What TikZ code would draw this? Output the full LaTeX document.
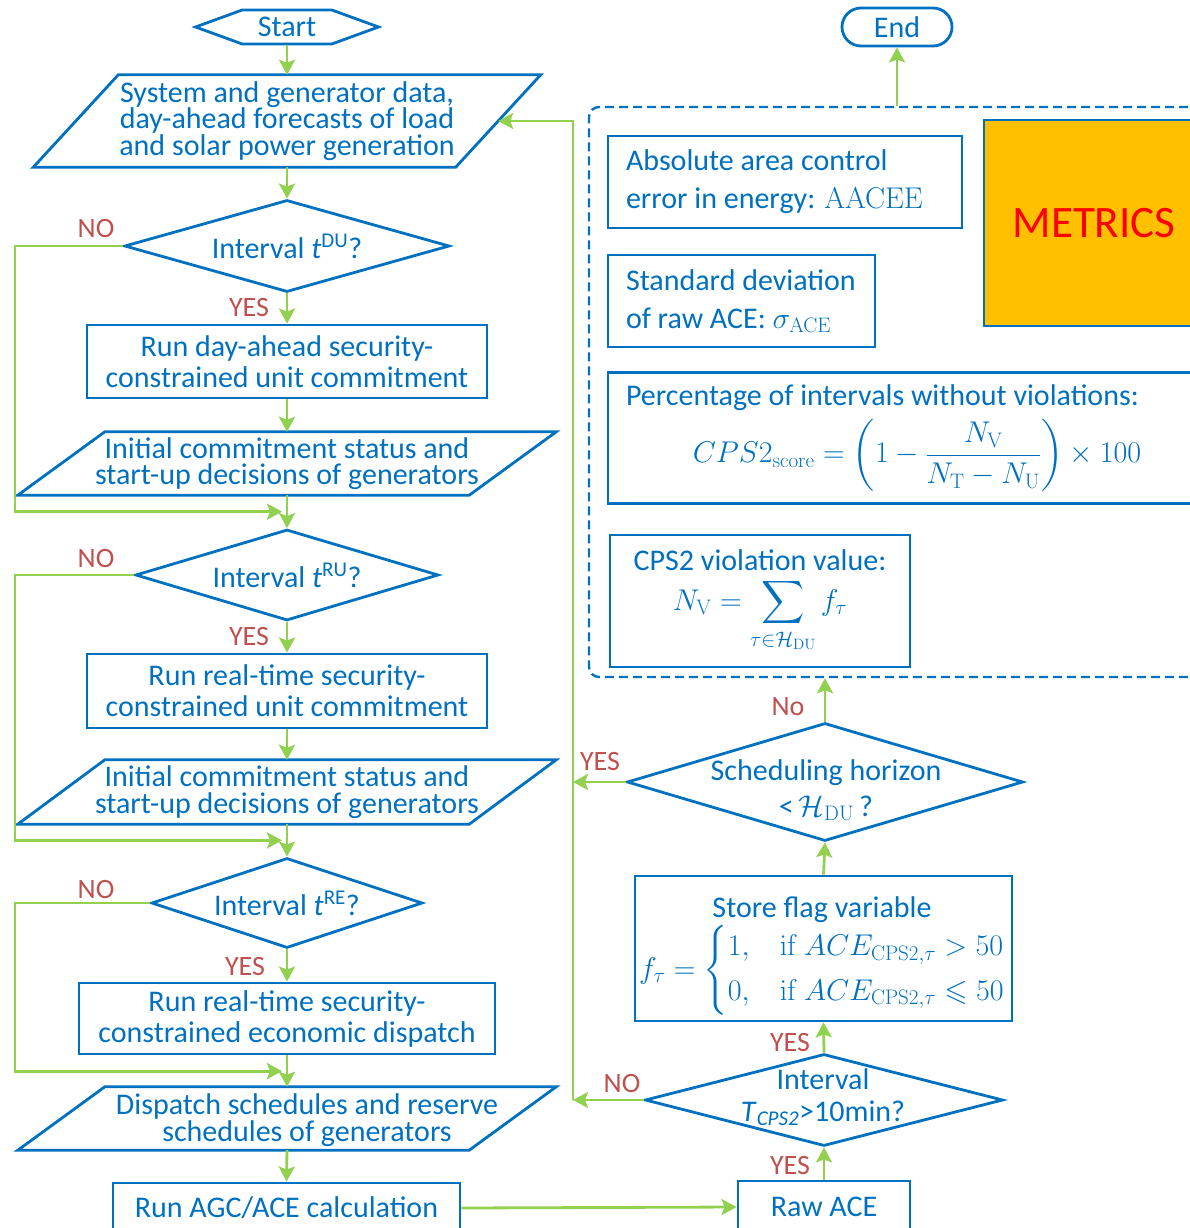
\RequirePackage{fix-cm}
\documentclass[tikz,border=0pt]{standalone}
\usepackage{amsmath,amssymb}
\usepackage[no-math]{fontspec}
\setmainfont{Carlito}
\usetikzlibrary{arrows.meta,positioning,shapes.geometric,shapes.symbols,calc}
\definecolor{cblue}{RGB}{0,112,192}
\definecolor{cgreen}{RGB}{146,208,80}
\definecolor{cred}{RGB}{192,80,77}
\definecolor{corange}{RGB}{255,192,0}
\newcommand{\bodyfont}{\fontsize{30}{31}\selectfont}
\newcommand{\tightfont}{\fontsize{30}{26.5}\selectfont}
\newcommand{\labelfont}{\fontsize{28}{30}\selectfont}
% slanted outline round a data node: #1 node, #2 half of the slant
\newcommand{\slantbox}[2]{\draw[draw=cblue, line width=2.8pt, line join=miter]
  ([xshift=#2]#1.north west) -- ([xshift=#2]#1.north east) -- ([xshift=-#2]#1.south east) -- ([xshift=-#2]#1.south west) -- cycle;}

\begin{document}
\begin{tikzpicture}[x=1pt, y=-1pt,
  box/.style={draw=cblue, line width=2.8pt, text=cblue, font=\bodyfont, align=center, inner sep=0pt},
  io/.style={text=cblue, font=\tightfont, align=center, inner sep=0pt},
  decision/.style={diamond, draw=cblue, line width=2.8pt, inner sep=0pt},
  txt/.style={text=cblue, font=\bodyfont, align=center, inner sep=0pt},
  lbl/.style={text=cred, font=\labelfont, inner sep=0pt},
  flow/.style={draw=cgreen, line width=2.8pt, -{Stealth[length=15pt,width=16pt,inset=3pt]}}]
  \useasboundingbox (0,0) rectangle (1190,1228);
  \clip (0,0) rectangle (1190,1228);

  %--- left column: scheduling chain ---
  \node[box, shape=signal, signal to=west and east, signal pointer angle=40, minimum width=183pt, minimum height=34pt] (start) at (287,27) {Start};

  \node[io, minimum width=422pt, minimum height=92pt] (inp) at (287,121) {System and generator data,\\day-ahead forecasts of load\\and solar power generation};
  \slantbox{inp}{42.5pt}

  \node[decision, minimum width=325pt, minimum height=92pt] (du) at (287,246) {};
  \node[txt] (dutext) at (du) {Interval \textit{t}\textsuperscript{DU}?};

  \node[box, minimum width=400pt, minimum height=73pt] (scuc) at (287,361.5) {Run day-ahead security-\\constrained unit commitment};

  \node[io, minimum width=451pt, minimum height=63pt] (ini1) at (287,463.5) {Initial commitment status and\\start-up decisions of generators};
  \slantbox{ini1}{43.5pt}

  \node[decision, minimum width=303pt, minimum height=91pt] (ru) at (287,575) {};
  \node[txt] (rutext) at (ru) {Interval \textit{t}\textsuperscript{RU}?};

  \node[box, minimum width=400pt, minimum height=74pt] (rtuc) at (287,691) {Run real-time security-\\constrained unit commitment};

  \node[io, minimum width=451pt, minimum height=64pt] (ini2) at (287,792) {Initial commitment status and\\start-up decisions of generators};
  \slantbox{ini2}{43.5pt}

  \node[decision, minimum width=271pt, minimum height=90pt] (re) at (287,903) {};
  \node[txt] (retext) at (re) {Interval \textit{t}\textsuperscript{RE}?};

  \node[box, minimum width=416pt, minimum height=71pt] (sced) at (287,1018.5) {Run real-time security-\\constrained economic dispatch};

  \node[io, minimum width=451pt, minimum height=63pt] (disp) at (287,1118.5) {};
  \slantbox{disp}{43.5pt}
  \node[io] (disptext) at (307,1120) {Dispatch schedules and reserve\\schedules of generators};

  \node[box, minimum width=347pt, minimum height=50pt] (agc) at (286.5,1208) {Run AGC/ACE calculation};

  %--- right column: CPS2 check ---
  \node[box, minimum width=172pt, minimum height=52pt] (raw) at (824,1207) {Raw ACE};

  \node[decision, minimum width=358pt, minimum height=92pt] (tcps) at (824,1100) {};
  \node[txt, font=\fontsize{30}{32}\selectfont] (tcpstext) at (823,1097) {Interval\\\textit{T}\textsubscript{\textit{CPS2}}>10min?};

  \node[box, minimum width=377pt, minimum height=145pt] (flag) at (823.5,948.5) {};
  \node[txt] (flagtext) at (822,956) {Store flag variable\\[2pt]
    $f_\tau = \begin{cases} 1, & \mathrm{if}\ ACE_{\mathrm{CPS2},\tau} > 50\\[7pt] 0, & \mathrm{if}\ ACE_{\mathrm{CPS2},\tau} \leqslant 50\end{cases}$};

  \node[decision, minimum width=396pt, minimum height=118pt] (hor) at (825,782) {};
  \node[txt, font=\fontsize{30}{36}\selectfont] (hortext) at (826,790) {Scheduling horizon\\{<}\,$\mathcal{H}_{\mathrm{DU}}$\,?};

  %--- metrics ---
  \node[draw=cblue, line width=2.4pt, dash pattern=on 9pt off 5pt, rounded corners=10pt, minimum width=651pt, minimum height=570pt, inner sep=0pt] (metbox) at (914.5,392) {};

  \node[box, minimum width=354pt, minimum height=92pt, text width=318pt, align=flush left, font=\fontsize{30}{38}\selectfont] (aacee) at (785,182) {Absolute area control\\error in energy: $\mathrm{AACEE}$};
  \node[box, minimum width=267pt, minimum height=92pt, text width=231pt, align=flush left, font=\fontsize{30}{38}\selectfont] (sigma) at (741.5,301) {Standard~deviation\\of raw ACE: $\sigma_{\mathrm{ACE}}$};
  \node[box, minimum width=618pt, minimum height=131pt, text width=582pt, align=flush left] (score) at (917,438) {Percentage of intervals without violations:\par\vspace{8pt}\centering
    $CPS2_{\mathrm{score}} = \left(1-\dfrac{N_{\mathrm{V}}}{N_{\mathrm{T}}-N_{\mathrm{U}}}\right)\times 100$\par};
  \node[box, minimum width=300pt, minimum height=132pt] (viol) at (760,601) {CPS2 violation value:\\[7pt]
    $N_{\mathrm{V}} = \displaystyle\sum_{\tau\in\mathcal{H}_{\mathrm{DU}}} f_\tau$};

  \node[draw=cblue, line width=2.8pt, fill=corange, minimum width=220pt, minimum height=206pt, text=red, font=\fontsize{45}{45}\selectfont] (metrics) at (1094,223) {METRICS};

  \node[box, rounded corners=19pt, minimum width=110pt, minimum height=38pt] (end) at (897,27) {End};

  %--- connectors ---
  \coordinate (lx) at (15,0);
  \coordinate (rj) at (573,121);
  \coordinate (j1) at ($(ini1.south)!0.5!(ru.north)$);
  \coordinate (j2) at ($(ini2.south)!0.5!(re.north)$);
  \coordinate (j3) at ($(sced.south)!0.5!(disp.north)$);

  \draw[flow] (start.south) -- (inp.north);
  \draw[flow] (inp.south) -- (du.north);
  \draw[flow] (du.south) -- (scuc.north);
  \draw[flow] (scuc.south) -- (ini1.north);
  \draw[flow] (ini1.south) -- (ru.north);
  \draw[flow] (ru.south) -- (rtuc.north);
  \draw[flow] (rtuc.south) -- (ini2.north);
  \draw[flow] (ini2.south) -- (re.north);
  \draw[flow] (re.south) -- (sced.north);
  \draw[flow] (sced.south) -- (disp.north);
  \draw[flow] (disp.south) -- (agc.north);

  \draw[flow] (du.west) -- (du.west -| lx) |- ([xshift=-5pt]j1);
  \draw[flow] (ru.west) -- (ru.west -| lx) |- ([xshift=-5pt]j2);
  \draw[flow] (re.west) -- (re.west -| lx) |- ([xshift=-5pt]j3);

  \draw[flow] (agc.east) -- (raw.west);
  \draw[flow] (raw.north) -- (tcps.south);
  \draw[flow] (tcps.north) -- (flag.south);
  \draw[flow] (flag.north) -- (hor.south);
  \draw[flow] (hor.north) -- (hor.north |- metbox.south);
  \draw[flow] (end.south |- metbox.north) -- (end.south);

  \draw[flow] (tcps.west) -- (tcps.west -| rj);
  \draw[flow] (hor.west) -- (hor.west -| rj);
  \draw[flow] (tcps.west -| rj) -- (rj) -- (inp.east);

  %--- branch labels ---
  \node[lbl] (no1) at (96,229) {NO};
  \node[lbl] (no2) at (96,559) {NO};
  \node[lbl] (no3) at (96,889) {NO};
  \node[lbl] (yes1) at (249,308) {YES};
  \node[lbl] (yes2) at (249,637) {YES};
  \node[lbl] (yes3) at (245,966) {YES};
  \node[lbl] (yes4) at (790,1165) {YES};
  \node[lbl] (yes5) at (790,1042) {YES};
  \node[lbl] (no4) at (622,1083) {NO};
  \node[lbl] (yes6) at (600,762) {YES};
  \node[lbl] (no5) at (788,707) {No};
\end{tikzpicture}
\end{document}
